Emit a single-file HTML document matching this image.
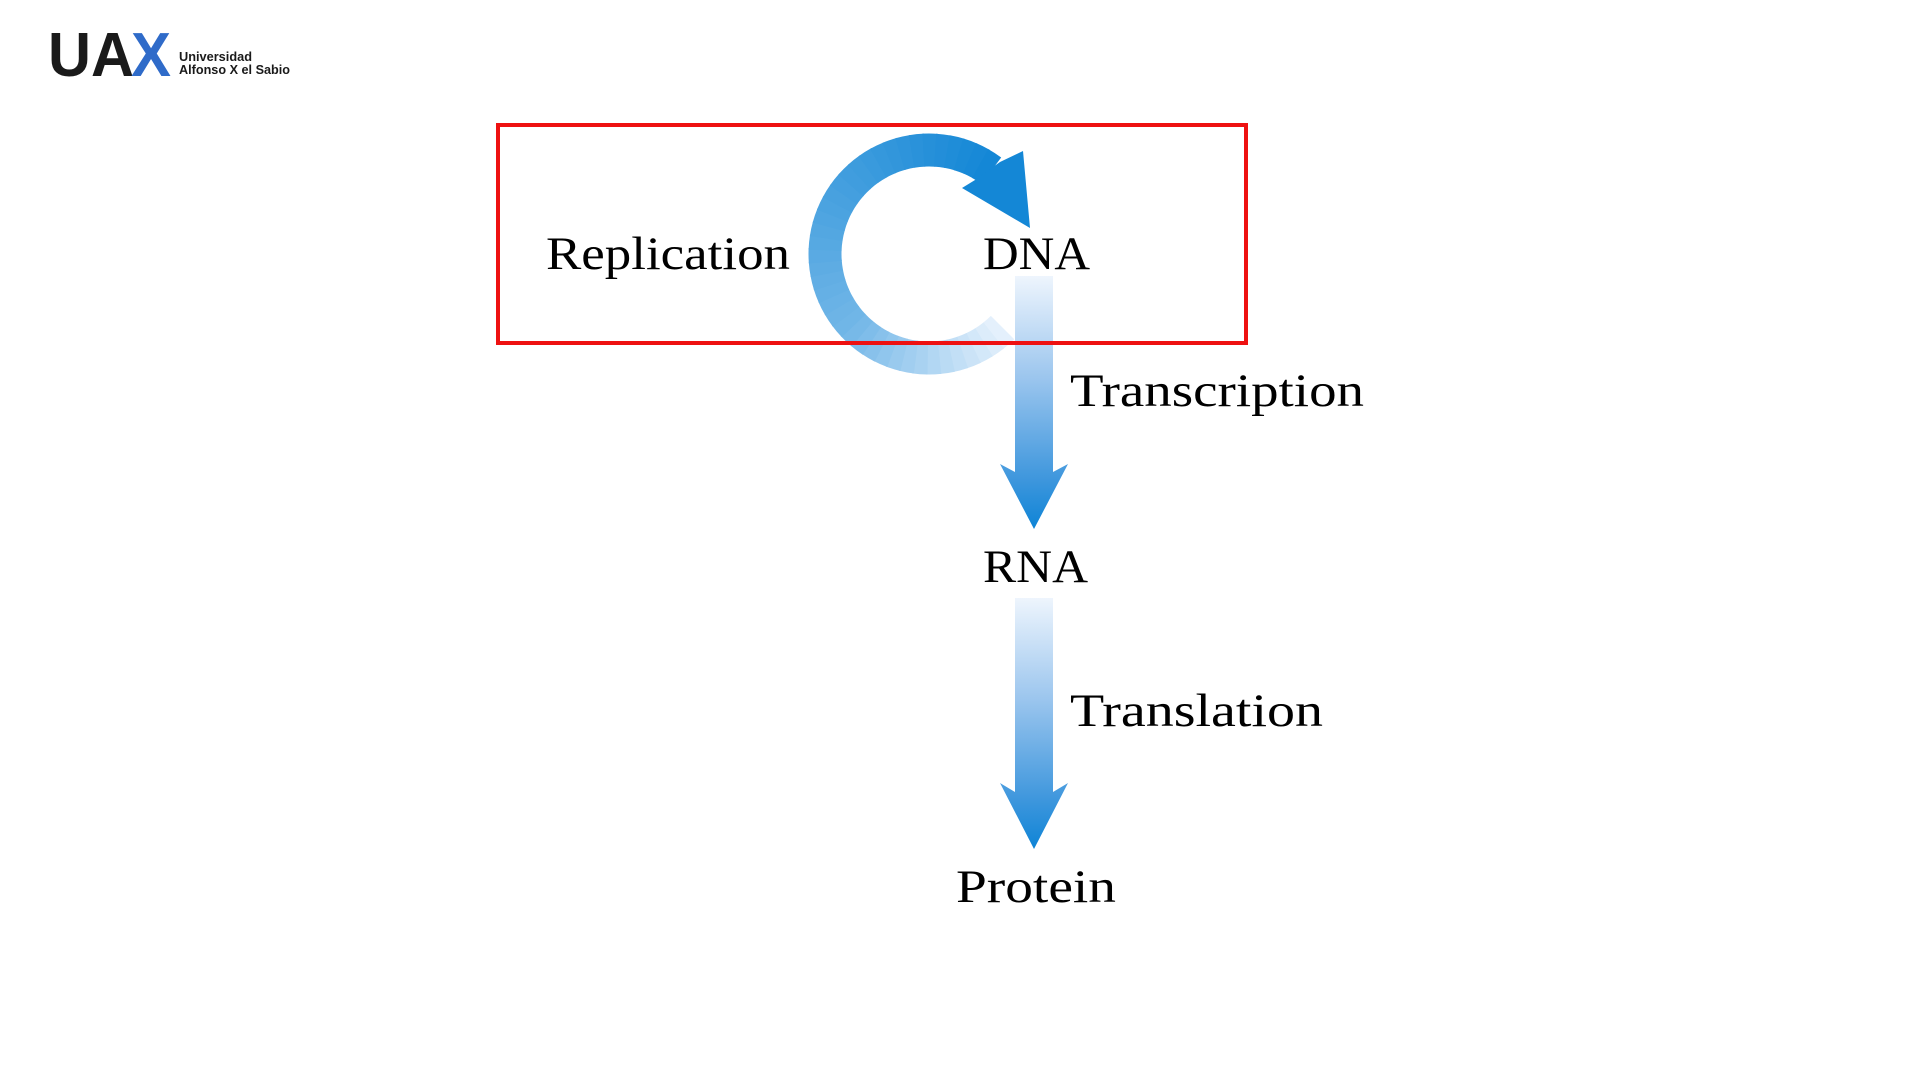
<!DOCTYPE html>
<html><head><meta charset="utf-8"><style>
html,body{margin:0;padding:0;background:#fff;width:1920px;height:1080px;overflow:hidden}
svg{display:block}
</style></head><body>
<svg width="1920" height="1080" viewBox="0 0 1920 1080" xmlns="http://www.w3.org/2000/svg">
<defs>
<linearGradient id="g1" x1="0" y1="276" x2="0" y2="529" gradientUnits="userSpaceOnUse">
<stop offset="0" stop-color="#eef5fd"/><stop offset="0.4" stop-color="#9cc6ee"/><stop offset="0.8" stop-color="#3f97dd"/><stop offset="1" stop-color="#0e84d6"/>
</linearGradient>
<linearGradient id="g2" x1="0" y1="598" x2="0" y2="849" gradientUnits="userSpaceOnUse">
<stop offset="0" stop-color="#eef5fd"/><stop offset="0.4" stop-color="#9cc6ee"/><stop offset="0.8" stop-color="#3f97dd"/><stop offset="1" stop-color="#0e84d6"/>
</linearGradient>
</defs>
<text x="48" y="76" font-family="Liberation Sans, sans-serif" font-weight="bold" font-size="62" fill="#1a1a1a" textLength="86" lengthAdjust="spacingAndGlyphs">UA</text>
<text x="131" y="76" font-family="Liberation Sans, sans-serif" font-weight="bold" font-size="62" fill="#2f6bc9" textLength="40" lengthAdjust="spacingAndGlyphs">X</text>
<text x="179" y="61" font-family="Liberation Sans, sans-serif" font-weight="bold" font-size="12.5" fill="#1a1a1a" textLength="73" lengthAdjust="spacingAndGlyphs">Universidad</text>
<text x="179" y="74" font-family="Liberation Sans, sans-serif" font-weight="bold" font-size="12.5" fill="#1a1a1a" textLength="111" lengthAdjust="spacingAndGlyphs">Alfonso X el Sabio</text>

<g id="ring"></g>
<polygon points="975,180 962,188 1030,228 1023,151 1000,162" fill="#1487d6"/>

<polygon points="1015,276 1053,276 1053,472 1068,464 1034,529 1000,464 1015,472" fill="url(#g1)"/>
<polygon points="1015,598 1053,598 1053,792 1068,783 1034,849 1000,783 1015,792" fill="url(#g2)"/>

<rect x="498" y="125" width="748" height="218" fill="none" stroke="#ee1111" stroke-width="4"/>

<g font-family="Liberation Serif, serif" font-size="47" fill="#000">
<text x="546" y="269" textLength="244" lengthAdjust="spacingAndGlyphs">Replication</text>
<text x="983" y="269" textLength="107" lengthAdjust="spacingAndGlyphs">DNA</text>
<text x="1070" y="406" textLength="294" lengthAdjust="spacingAndGlyphs">Transcription</text>
<text x="983" y="582" textLength="105" lengthAdjust="spacingAndGlyphs">RNA</text>
<text x="1070" y="726" textLength="253" lengthAdjust="spacingAndGlyphs">Translation</text>
<text x="956" y="902" textLength="160" lengthAdjust="spacingAndGlyphs">Protein</text>
</g>
</svg>
<script>
(function(){
var g=document.getElementById('ring');
var cx=929,cy=254,r=104,a0=45,a1=306,n=40;
var c0=[228,240,252],c1=[20,135,214];
var s='';
for(var i=0;i<n;i++){
 var t=i/(n-1);
 var sa=a0+(a1-a0)*i/n, ea=a0+(a1-a0)*(i+1)/n+0.8;
 var col='rgb('+c0.map(function(v,k){return Math.round(v+(c1[k]-v)*(t<0.35?t/0.35*0.55:0.55+(t-0.35)/0.65*0.45));}).join(',')+')';
 var x1=cx+r*Math.cos(sa*Math.PI/180),y1=cy+r*Math.sin(sa*Math.PI/180);
 var x2=cx+r*Math.cos(ea*Math.PI/180),y2=cy+r*Math.sin(ea*Math.PI/180);
 s+='<path d="M'+x1+' '+y1+' A'+r+' '+r+' 0 0 1 '+x2+' '+y2+'" fill="none" stroke="'+col+'" stroke-width="33"/>';
}
g.innerHTML=s;
})();
</script>
</body></html>
